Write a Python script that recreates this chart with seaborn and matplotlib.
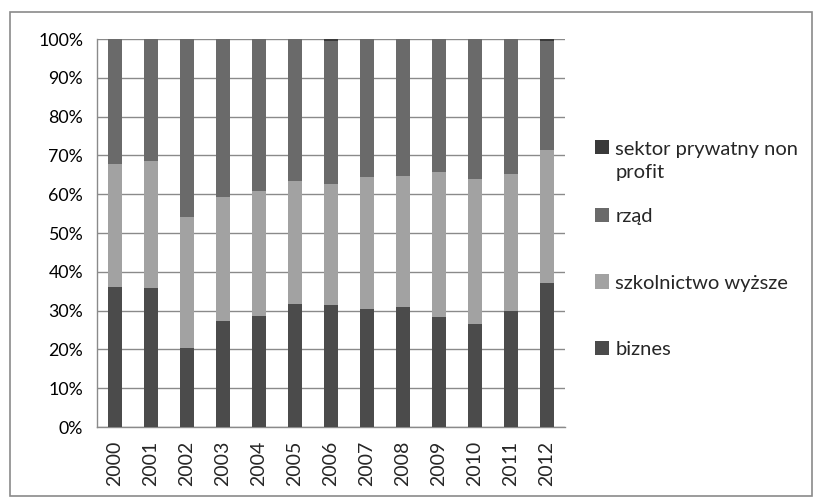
import numpy as np
import pandas as pd
import seaborn as sns
import matplotlib
matplotlib.use("Agg")
import matplotlib.pyplot as plt
from matplotlib.patches import Rectangle, Patch
from matplotlib.ticker import FixedLocator, PercentFormatter

years = ["2000", "2001", "2002", "2003", "2004", "2005", "2006",
         "2007", "2008", "2009", "2010", "2011", "2012"]
biznes = [36.0, 35.7, 20.4, 27.3, 28.7, 31.7, 31.4, 30.3, 30.9, 28.4, 26.5, 30.0, 37.1]
szkolnictwo_top = [67.7, 68.5, 54.2, 59.4, 60.8, 63.5, 62.7, 64.4, 64.7, 65.7, 63.8, 65.2, 71.5]
szkolnictwo = [round(t - b, 1) for t, b in zip(szkolnictwo_top, biznes)]
non_profit = [0.1, 0.1, 0.1, 0.1, 0.1, 0.1, 0.5, 0.1, 0.1, 0.1, 0.1, 0.1, 0.5]
rzad = [round(100 - b - s - n, 1) for b, s, n in zip(biznes, szkolnictwo, non_profit)]

labels = ["sektor prywatny non\nprofit", "rząd", "szkolnictwo wyższe", "biznes"]
colors = {"biznes": "#4b4b4b", "szkolnictwo wyższe": "#a2a2a2",
          "rząd": "#6a6a6a", "sektor prywatny non\nprofit": "#3a3a3a"}

df = pd.DataFrame({"rok": years, "biznes": biznes, "szkolnictwo wyższe": szkolnictwo,
                   "rząd": rzad, "sektor prywatny non\nprofit": non_profit})
order = ["biznes", "szkolnictwo wyższe", "rząd", "sektor prywatny non\nprofit"]
cum = df[order].cumsum(axis=1)

sns.set_style("white")
plt.rcParams["font.family"] = ["Lato", "DejaVu Sans"]

fig = plt.figure(figsize=(8.16, 4.98), dpi=100)
ax = fig.add_axes([97/816, 1 - 427/498, (565-97)/816, (427-39)/498])

for name in order[::-1]:
    sns.barplot(x=df["rok"], y=cum[name], color=colors[name], width=0.4,
                saturation=1, ax=ax, edgecolor="none", linewidth=0, zorder=3)

ax.set_ylim(0, 100)
ax.set_xlim(-0.5, len(years) - 0.5)
ax.set_yticks(np.arange(0, 101, 10))
ax.yaxis.set_major_formatter(PercentFormatter(decimals=0))
ax.grid(axis="y", color="#8a8a8a", linewidth=1, zorder=0)
ax.set_axisbelow(True)
for s in ["top", "right"]:
    ax.spines[s].set_visible(False)
for s in ["left", "bottom"]:
    ax.spines[s].set_color("#8a8a8a")
    ax.spines[s].set_linewidth(1)
ax.tick_params(axis="y", length=6, color="#8a8a8a", labelsize=12.8, pad=4, labelcolor="#000000")
ax.tick_params(axis="x", which="major", length=0, labelsize=14, rotation=90, pad=10)
ax.xaxis.set_minor_locator(FixedLocator(np.arange(-0.5, len(years), 1.0)))
ax.tick_params(axis="x", which="minor", length=7, color="#8a8a8a", direction="out")
ax.set_xlabel("")
ax.set_ylabel("")

handles = [Patch(facecolor=colors[l], edgecolor="none") for l in labels]
leg_fs = 14.5
common = dict(loc="upper left", frameon=False, fontsize=leg_fs, handlelength=0.7,
              handleheight=0.7, handletextpad=0.3, borderaxespad=0)
leg1 = fig.legend(handles[:1], labels[:1], bbox_to_anchor=(587/816, 1 - 133/498), **common)
leg1.get_texts()[0].set_linespacing(1.45)
first = leg1.legend_handles[0]
first.set_y(first.get_y() + 0.72 * leg_fs)
leg2 = fig.legend(handles[1:], labels[1:], bbox_to_anchor=(587/816, 1 - 200/498),
                  labelspacing=2.45, **common)

fig.patches.append(Rectangle((10/816, 2/498), 802/816, 484/498, transform=fig.transFigure,
                             fill=False, edgecolor="#8a8a8a", linewidth=1.2))
fig.savefig("out.png", dpi=100)
